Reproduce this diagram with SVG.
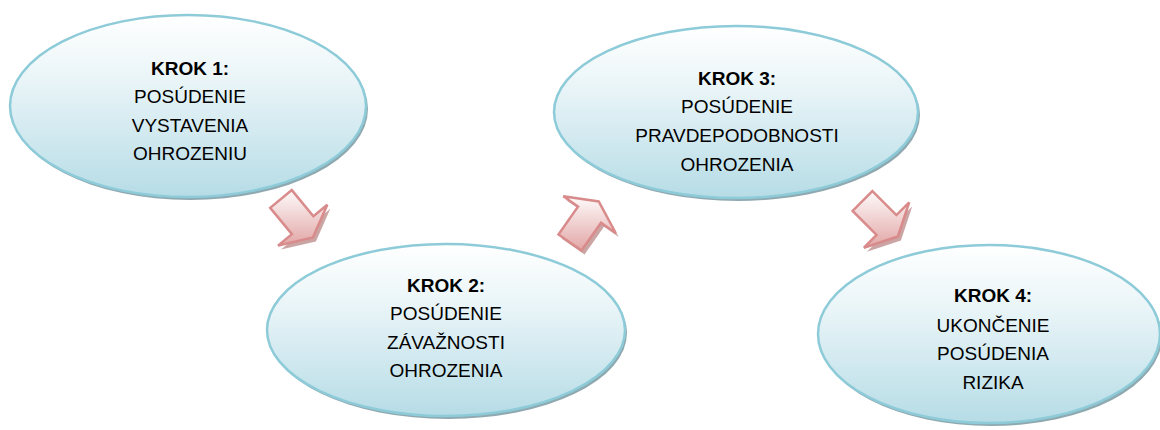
<svg xmlns="http://www.w3.org/2000/svg" width="1160" height="430" viewBox="0 0 1160 430">
<defs>
<linearGradient id="eg" x1="0" y1="0" x2="0" y2="1">
<stop offset="0" stop-color="#ffffff"/>
<stop offset="0.35" stop-color="#eaf5f8"/>
<stop offset="1" stop-color="#b6dce6"/>
</linearGradient>
<linearGradient id="ag" x1="0" y1="0" x2="0" y2="1">
<stop offset="0" stop-color="#fefafa"/>
<stop offset="1" stop-color="#e2a6a6"/>
</linearGradient>
</defs>
<style>
.sh{fill:#8fa9b1}
.el{fill:url(#eg);stroke:#8ecbd9;stroke-width:2.5}
.ash{fill:#b98585;opacity:0.75}
.ar{fill:url(#ag);stroke:#d98b8b;stroke-width:2.5;stroke-linejoin:miter}
text{font-family:"Liberation Sans",Arial,sans-serif;font-size:19px;fill:#000;text-anchor:middle}
.b{font-weight:bold}
</style>
<g id="connectors">
<g id="arrow1">
<polygon class="ash" transform="translate(3,4)" points="291.8,190.1 313.4,216.3 327.3,204.8 312.9,237.5 278,245.6 291.9,234.1 270.2,207.9"/>
<polygon class="ar" points="291.8,190.1 313.4,216.3 327.3,204.8 312.9,237.5 278,245.6 291.9,234.1 270.2,207.9"/>
</g>
<g id="arrow2">
<polygon class="ash" transform="translate(3,4)" points="558.5,234.5 578,206.6 563.3,196.3 598.7,201.5 615.7,233 601,222.7 581.5,250.5"/>
<polygon class="ar" points="558.5,234.5 578,206.6 563.3,196.3 598.7,201.5 615.7,233 601,222.7 581.5,250.5"/>
</g>
<g id="arrow3">
<polygon class="ash" transform="translate(3,4)" points="872.4,191.1 896.4,215.1 909.2,202.4 897.9,236.4 863.9,247.7 876.6,234.9 852.6,210.9"/>
<polygon class="ar" points="872.4,191.1 896.4,215.1 909.2,202.4 897.9,236.4 863.9,247.7 876.6,234.9 852.6,210.9"/>
</g>
</g>
<g id="step1">
<ellipse class="sh" cx="190" cy="109" rx="178" ry="91"/>
<ellipse class="el" cx="188" cy="106" rx="178" ry="91"/>
<text class="b" x="190" y="75">KROK 1:</text>
<text x="190" y="103">POSÚDENIE</text>
<text x="190" y="132">VYSTAVENIA</text>
<text x="190" y="160">OHROZENIU</text>
</g>
<g id="step2">
<ellipse class="sh" cx="448" cy="333" rx="179" ry="86"/>
<ellipse class="el" cx="446" cy="330" rx="179" ry="86"/>
<text class="b" x="446" y="292">KROK 2:</text>
<text x="446" y="320">POSÚDENIE</text>
<text x="446" y="349">ZÁVAŽNOSTI</text>
<text x="446" y="377">OHROZENIA</text>
</g>
<g id="step3">
<ellipse class="sh" cx="738" cy="115" rx="182" ry="86"/>
<ellipse class="el" cx="736" cy="112" rx="182" ry="86"/>
<text class="b" x="737" y="85">KROK 3:</text>
<text x="737" y="113">POSÚDENIE</text>
<text x="737" y="142">PRAVDEPODOBNOSTI</text>
<text x="737" y="171">OHROZENIA</text>
</g>
<g id="step4">
<ellipse class="sh" cx="991" cy="337" rx="171" ry="89"/>
<ellipse class="el" cx="989" cy="334" rx="171" ry="89"/>
<text class="b" x="993" y="302">KROK 4:</text>
<text x="993" y="332">UKONČENIE</text>
<text x="993" y="360">POSÚDENIA</text>
<text x="993" y="389">RIZIKA</text>
</g>
</svg>
